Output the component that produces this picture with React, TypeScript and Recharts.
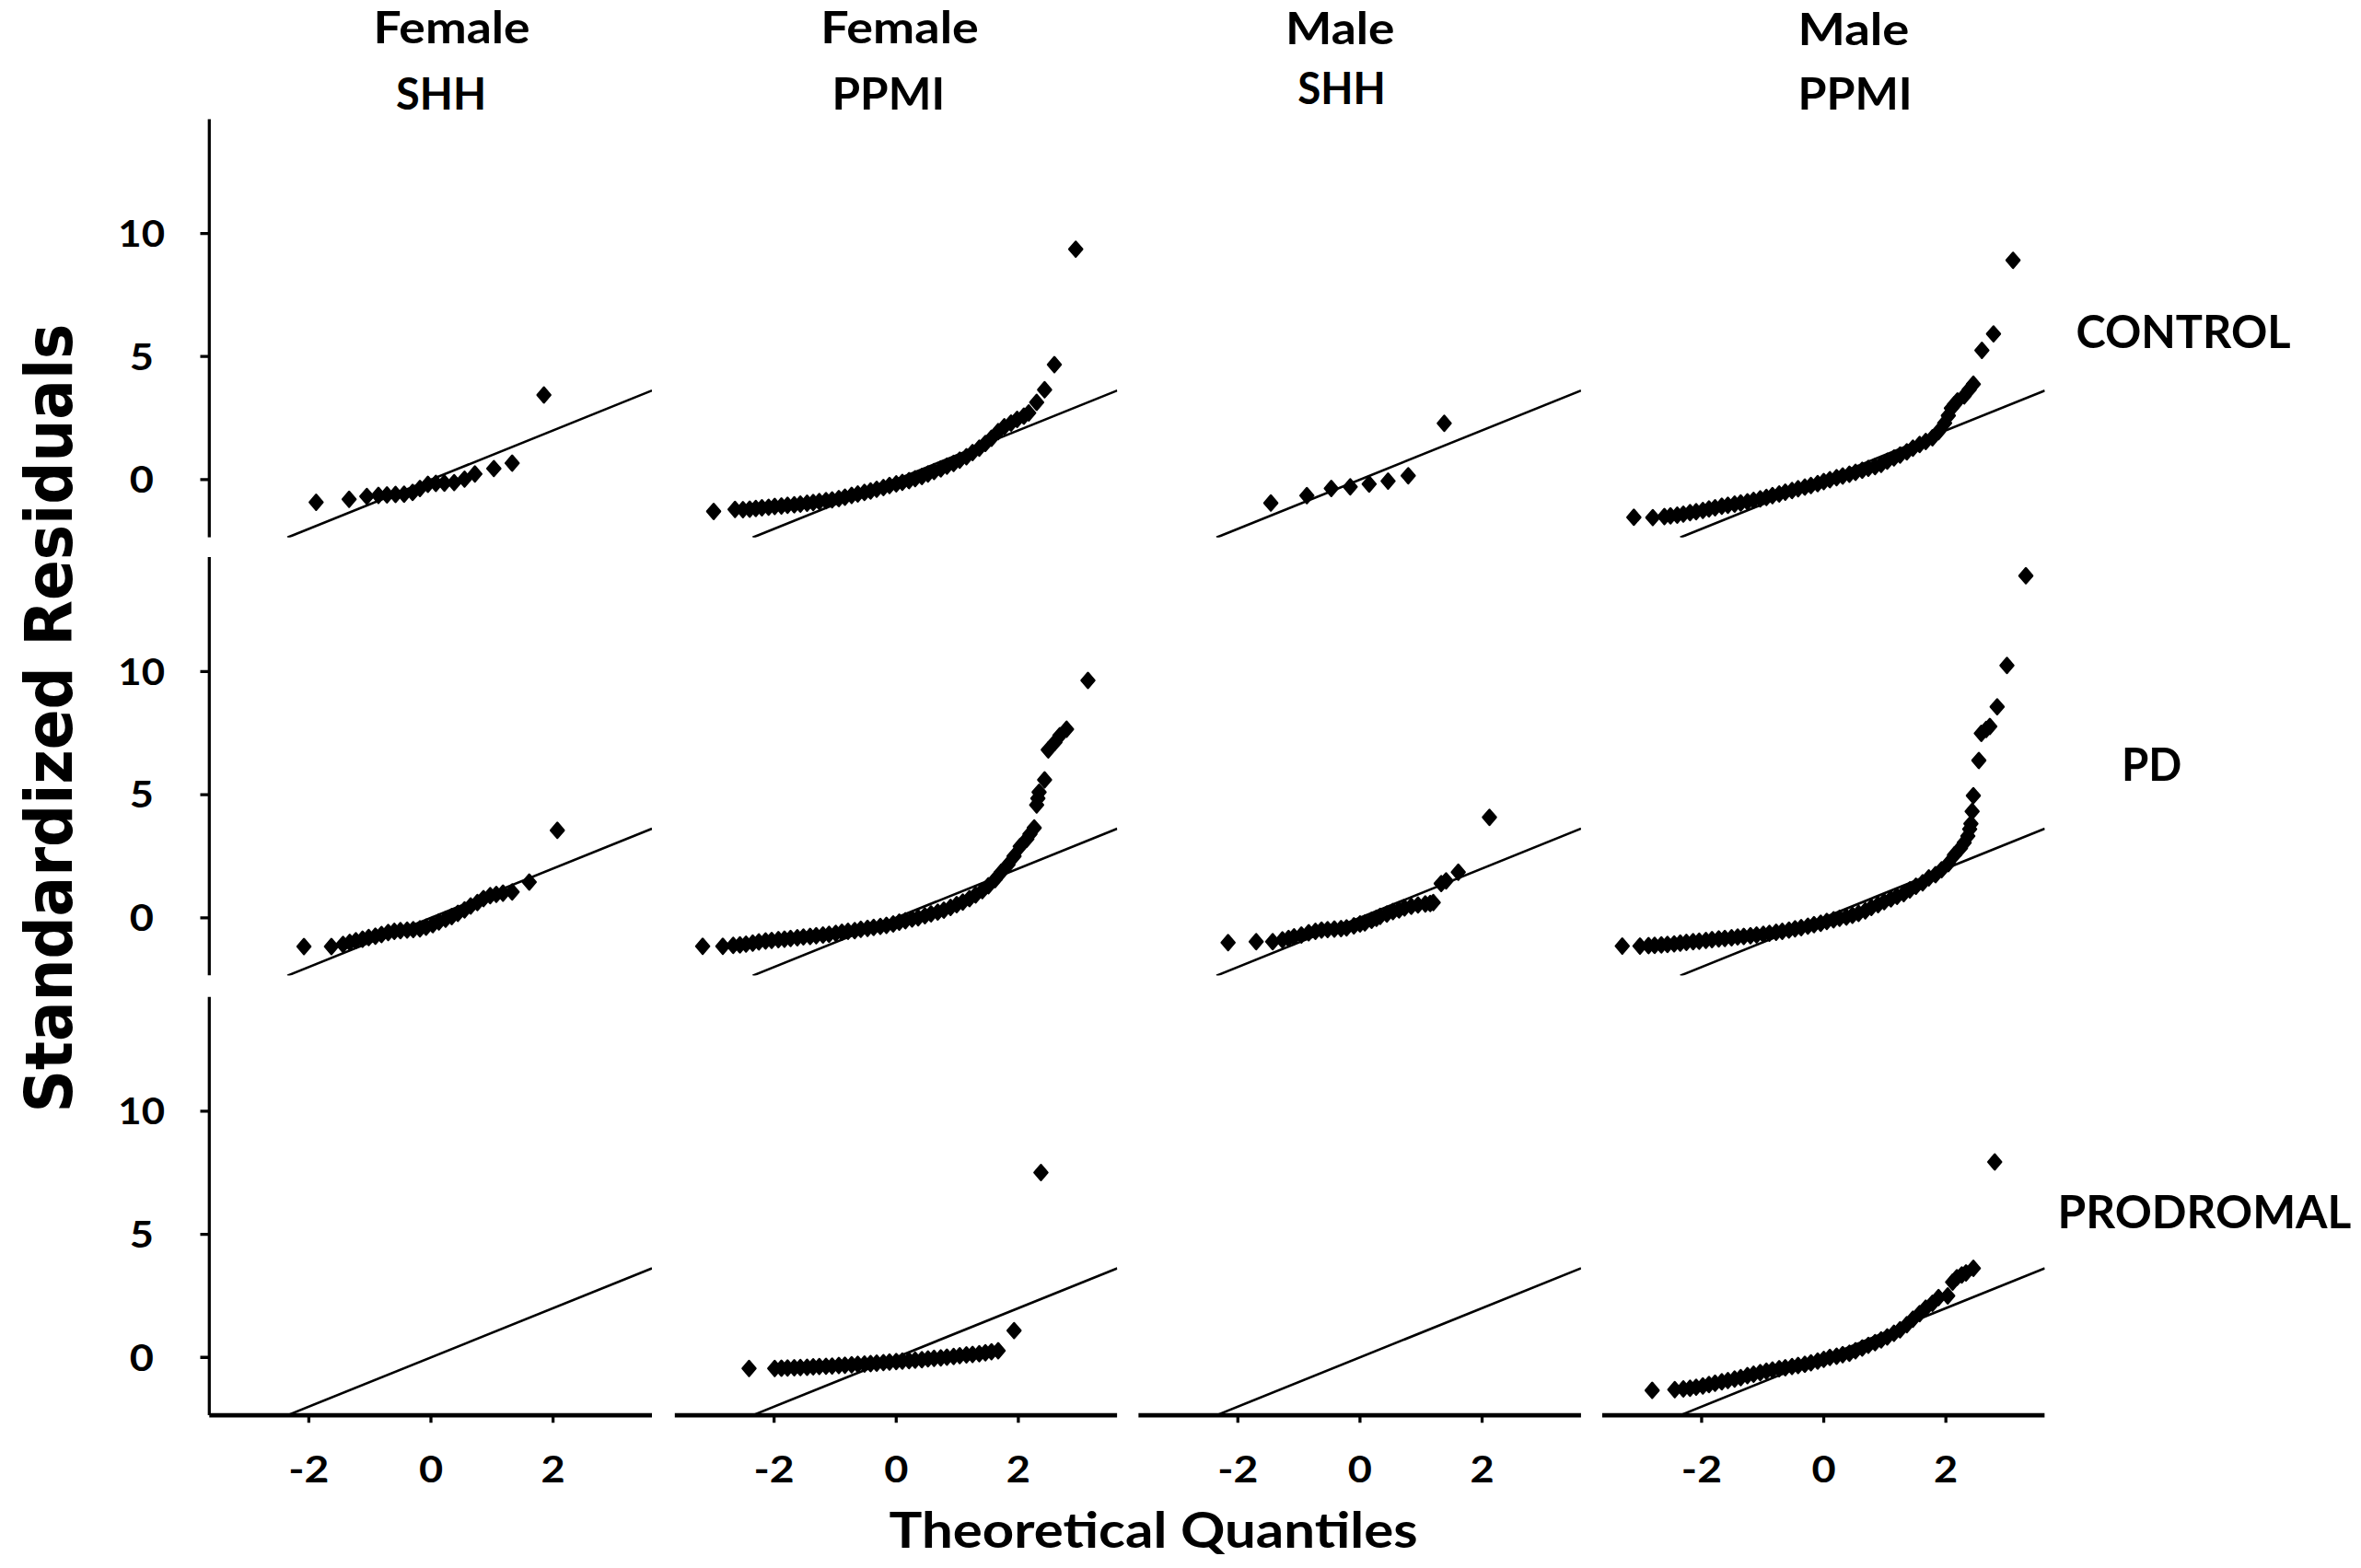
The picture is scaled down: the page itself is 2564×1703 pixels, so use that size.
import React from 'react';
import { ReferenceLine, Scatter, ScatterChart, XAxis, YAxis } from 'recharts';

type Pt = [number, number];

const xTicks = [-2, 0, 2];
const yTicks = [0, 5, 10];
const xDomain = [-3.63, 3.62];
const yDomain = [-2.35, 14.65];
// reference line y = x, from the bottom of the panel to its right edge
const qqLine = [-2.35, 3.62];

const columnTitles = [['Female', 'SHH'], ['Female', 'PPMI'], ['Male', 'SHH'], ['Male', 'PPMI']];
const rowLabels = ['CONTROL', 'PD', 'PRODROMAL'];

// CONTROL
const femaleShhControl: Pt[] = [[-1.88, -0.92], [-1.34, -0.8], [-1.05, -0.68], [-0.86, -0.64], [-0.72, -0.62], [-0.58, -0.6], [-0.44, -0.59], [-0.3, -0.52], [-0.18, -0.36], [-0.05, -0.19], [0.08, -0.15], [0.22, -0.14], [0.38, -0.12], [0.55, 0.02], [0.72, 0.23], [1.03, 0.45], [1.33, 0.67], [1.85, 3.44]];
const femalePpmiControl: Pt[] = [[-2.99, -1.29], [-2.64, -1.21], [-2.51, -1.22], [-2.4, -1.2], [-2.3, -1.17], [-2.2, -1.14], [-2.09, -1.12], [-1.99, -1.09], [-1.88, -1.07], [-1.78, -1.04], [-1.67, -1.02], [-1.57, -0.99], [-1.46, -0.96], [-1.36, -0.93], [-1.26, -0.89], [-1.15, -0.85], [-1.05, -0.82], [-0.94, -0.77], [-0.84, -0.71], [-0.73, -0.64], [-0.63, -0.58], [-0.52, -0.52], [-0.42, -0.46], [-0.32, -0.39], [-0.21, -0.32], [-0.11, -0.24], [0.0, -0.17], [0.1, -0.11], [0.21, -0.04], [0.31, 0.04], [0.42, 0.13], [0.52, 0.23], [0.62, 0.33], [0.73, 0.44], [0.83, 0.55], [0.94, 0.66], [1.04, 0.79], [1.15, 0.93], [1.25, 1.1], [1.36, 1.28], [1.46, 1.47], [1.56, 1.68], [1.67, 1.95], [1.77, 2.15], [1.88, 2.3], [1.98, 2.45], [2.09, 2.58], [2.17, 2.71], [2.3, 3.14], [2.43, 3.65], [2.59, 4.67], [2.94, 9.36]];
const maleShhControl: Pt[] = [[-1.46, -0.95], [-0.87, -0.65], [-0.47, -0.36], [-0.16, -0.29], [0.15, -0.18], [0.46, -0.06], [0.79, 0.16], [1.38, 2.29]];
const malePpmiControl: Pt[] = [[-3.11, -1.53], [-2.8, -1.54], [-2.61, -1.5], [-2.51, -1.47], [-2.4, -1.44], [-2.3, -1.4], [-2.19, -1.34], [-2.09, -1.3], [-1.98, -1.25], [-1.88, -1.19], [-1.78, -1.14], [-1.67, -1.08], [-1.57, -1.04], [-1.46, -0.99], [-1.36, -0.95], [-1.25, -0.9], [-1.15, -0.84], [-1.04, -0.78], [-0.94, -0.72], [-0.84, -0.65], [-0.73, -0.58], [-0.63, -0.51], [-0.52, -0.44], [-0.42, -0.37], [-0.31, -0.3], [-0.21, -0.24], [-0.1, -0.16], [0.0, -0.08], [0.1, 0.0], [0.21, 0.08], [0.31, 0.15], [0.42, 0.22], [0.52, 0.3], [0.63, 0.38], [0.73, 0.46], [0.84, 0.53], [0.94, 0.62], [1.04, 0.75], [1.15, 0.88], [1.25, 1.0], [1.36, 1.13], [1.46, 1.28], [1.57, 1.43], [1.67, 1.55], [1.78, 1.7], [1.88, 1.95], [1.98, 2.3], [2.04, 2.6], [2.09, 2.9], [2.14, 3.05], [2.19, 3.2], [2.3, 3.4], [2.38, 3.65], [2.45, 3.88], [2.59, 5.25], [2.78, 5.92], [3.1, 8.91]];

// PD
const femaleShhPd: Pt[] = [[-2.08, -1.17], [-1.63, -1.17], [-1.44, -1.08], [-1.33, -1.0], [-1.23, -0.93], [-1.12, -0.87], [-1.02, -0.8], [-0.91, -0.75], [-0.81, -0.68], [-0.7, -0.6], [-0.6, -0.55], [-0.5, -0.52], [-0.39, -0.5], [-0.29, -0.48], [-0.18, -0.45], [-0.08, -0.38], [0.03, -0.28], [0.13, -0.17], [0.24, -0.06], [0.34, 0.05], [0.44, 0.18], [0.55, 0.32], [0.65, 0.48], [0.76, 0.62], [0.86, 0.78], [0.97, 0.9], [1.07, 0.95], [1.18, 1.0], [1.33, 1.05], [1.61, 1.45], [2.07, 3.55]];
const femalePpmiPd: Pt[] = [[-3.17, -1.16], [-2.84, -1.16], [-2.67, -1.12], [-2.56, -1.1], [-2.46, -1.07], [-2.35, -1.03], [-2.25, -0.98], [-2.14, -0.94], [-2.04, -0.92], [-1.93, -0.89], [-1.83, -0.87], [-1.73, -0.84], [-1.62, -0.81], [-1.52, -0.78], [-1.41, -0.76], [-1.31, -0.73], [-1.2, -0.7], [-1.1, -0.67], [-0.99, -0.63], [-0.89, -0.59], [-0.79, -0.55], [-0.68, -0.52], [-0.58, -0.47], [-0.47, -0.43], [-0.37, -0.39], [-0.26, -0.35], [-0.16, -0.31], [-0.05, -0.25], [0.05, -0.18], [0.15, -0.12], [0.26, -0.05], [0.36, 0.0], [0.47, 0.08], [0.57, 0.16], [0.68, 0.23], [0.78, 0.31], [0.89, 0.42], [0.99, 0.53], [1.09, 0.64], [1.2, 0.78], [1.3, 0.93], [1.41, 1.1], [1.51, 1.3], [1.62, 1.55], [1.72, 1.85], [1.83, 2.15], [1.93, 2.5], [2.03, 2.9], [2.14, 3.2], [2.19, 3.4], [2.26, 3.65], [2.3, 4.58], [2.32, 4.85], [2.34, 5.1], [2.43, 5.6], [2.49, 6.82], [2.6, 7.13], [2.68, 7.4], [2.79, 7.66], [3.14, 9.64]];
const maleShhPd: Pt[] = [[-2.16, -1.01], [-1.7, -0.97], [-1.43, -0.97], [-1.27, -0.9], [-1.17, -0.84], [-1.08, -0.77], [-0.96, -0.7], [-0.84, -0.61], [-0.73, -0.55], [-0.63, -0.5], [-0.53, -0.48], [-0.42, -0.46], [-0.31, -0.44], [-0.22, -0.41], [-0.1, -0.33], [0.0, -0.25], [0.08, -0.21], [0.19, -0.1], [0.27, -0.02], [0.33, 0.06], [0.44, 0.15], [0.54, 0.25], [0.64, 0.32], [0.73, 0.4], [0.84, 0.47], [0.95, 0.52], [1.07, 0.56], [1.15, 0.58], [1.2, 0.62], [1.33, 1.39], [1.41, 1.5], [1.61, 1.85], [2.12, 4.08]];
const malePpmiPd: Pt[] = [[-3.3, -1.15], [-3.01, -1.15], [-2.87, -1.13], [-2.77, -1.12], [-2.66, -1.1], [-2.56, -1.08], [-2.45, -1.06], [-2.35, -1.03], [-2.25, -1.0], [-2.14, -0.97], [-2.04, -0.95], [-1.93, -0.92], [-1.83, -0.89], [-1.72, -0.86], [-1.62, -0.84], [-1.51, -0.81], [-1.41, -0.78], [-1.31, -0.76], [-1.2, -0.73], [-1.1, -0.7], [-0.99, -0.67], [-0.89, -0.63], [-0.78, -0.59], [-0.68, -0.55], [-0.57, -0.5], [-0.47, -0.45], [-0.37, -0.4], [-0.26, -0.34], [-0.16, -0.28], [-0.05, -0.22], [0.05, -0.15], [0.16, -0.08], [0.26, -0.02], [0.37, 0.03], [0.47, 0.1], [0.57, 0.18], [0.68, 0.28], [0.78, 0.42], [0.89, 0.53], [0.99, 0.65], [1.1, 0.77], [1.2, 0.87], [1.31, 0.98], [1.41, 1.13], [1.51, 1.28], [1.62, 1.42], [1.72, 1.62], [1.83, 1.75], [1.93, 1.95], [2.04, 2.2], [2.14, 2.55], [2.24, 2.83], [2.3, 3.05], [2.36, 3.32], [2.39, 3.6], [2.41, 3.82], [2.43, 4.32], [2.45, 4.96], [2.54, 6.39], [2.58, 7.49], [2.66, 7.65], [2.72, 7.77], [2.84, 8.57], [3.0, 10.25], [3.31, 13.89]];

// PRODROMAL
const femaleShhProdromal: Pt[] = [];
const femalePpmiProdromal: Pt[] = [[-2.41, -0.45], [-1.99, -0.45], [-1.88, -0.44], [-1.78, -0.43], [-1.67, -0.42], [-1.57, -0.41], [-1.46, -0.4], [-1.36, -0.38], [-1.26, -0.37], [-1.15, -0.36], [-1.05, -0.35], [-0.94, -0.33], [-0.84, -0.32], [-0.73, -0.3], [-0.63, -0.28], [-0.52, -0.27], [-0.42, -0.25], [-0.32, -0.23], [-0.21, -0.21], [-0.11, -0.19], [0.0, -0.17], [0.1, -0.15], [0.21, -0.13], [0.31, -0.11], [0.42, -0.09], [0.52, -0.06], [0.62, -0.04], [0.73, -0.02], [0.83, 0.01], [0.94, 0.04], [1.04, 0.07], [1.15, 0.1], [1.25, 0.12], [1.36, 0.15], [1.46, 0.19], [1.56, 0.23], [1.67, 0.27], [1.93, 1.09], [2.37, 7.51]];
const maleShhProdromal: Pt[] = [];
const malePpmiProdromal: Pt[] = [[-2.81, -1.34], [-2.44, -1.31], [-2.3, -1.28], [-2.19, -1.25], [-2.09, -1.21], [-1.98, -1.16], [-1.88, -1.1], [-1.78, -1.05], [-1.67, -0.99], [-1.57, -0.94], [-1.46, -0.88], [-1.36, -0.82], [-1.25, -0.74], [-1.15, -0.68], [-1.04, -0.62], [-0.94, -0.56], [-0.84, -0.51], [-0.73, -0.46], [-0.63, -0.42], [-0.52, -0.37], [-0.42, -0.33], [-0.31, -0.28], [-0.21, -0.22], [-0.1, -0.15], [0.0, -0.08], [0.1, 0.0], [0.21, 0.05], [0.31, 0.11], [0.42, 0.17], [0.52, 0.27], [0.63, 0.38], [0.73, 0.49], [0.84, 0.6], [0.94, 0.71], [1.04, 0.83], [1.15, 0.98], [1.25, 1.12], [1.36, 1.33], [1.46, 1.55], [1.57, 1.78], [1.67, 2.0], [1.78, 2.2], [1.88, 2.43], [2.03, 2.5], [2.11, 3.06], [2.18, 3.24], [2.26, 3.35], [2.33, 3.43], [2.45, 3.62], [2.8, 7.94]];

const grid: Pt[][][] = [
	[femaleShhControl, femalePpmiControl, maleShhControl, malePpmiControl],
	[femaleShhPd, femalePpmiPd, maleShhPd, malePpmiPd],
	[femaleShhProdromal, femalePpmiProdromal, maleShhProdromal, malePpmiProdromal],
];

// layout, in 1568x1040 units, scaled up to the 2564 px window
const S = 2564 / 1568;
const PLOT_W = 294;
const PLOT_H = 278;
const AXIS_W = 70;
const AXIS_H = 70;
const colLeft = [139, 448, 756, 1064];
const rowTop = [78.5, 370, 662];

const titleLayout = [
	{ x: [300, 293], y: [29, 72.5], w: [104, 60] },
	{ x: [597.5, 590], y: [29, 72.5], w: [105, 75] },
	{ x: [890, 891], y: [29.5, 69], w: [72.5, 58.5] },
	{ x: [1231, 1232], y: [30, 72.5], w: [74, 76] },
];
const rowLabelLayout = [
	{ x: 1450, y: 231, w: 142.6 },
	{ x: 1429, y: 518.6, w: 40 },
	{ x: 1464, y: 816, w: 195 },
];

const LABEL_FONT = 'Lato, "Open Sans", sans-serif';
const tickWidth: Record<string, number> = { '10': 31, '-2': 27 };

const Tick = (props: any) => {
	const { x, y, payload } = props;
	const label = String(payload.value);
	return (
		<text x={x} y={y} dy="0.35em" textAnchor="middle" fontFamily={LABEL_FONT} fontSize={25} fontWeight={700}
		      fill="#000" textLength={tickWidth[label] ?? 16} lengthAdjust="spacingAndGlyphs">
			{label}
		</text>
	);
};

const Dot = (props: any) => {
	const { cx, cy } = props;
	if (cx == null || cy == null) return null;
	return (
		<path d={`M${cx},${cy - 5}L${cx + 4.3},${cy}L${cx},${cy + 5}L${cx - 4.3},${cy}Z`}
		      fill="#000" stroke="#000" strokeWidth={1.5} strokeLinejoin="round" />
	);
};

const Panel = ({ row, col }: { row: number, col: number }) => {
	const showY = col === 0;
	const showX = row === 2;
	const data = grid[row][col].map(([x, y]) => ({ x, y }));
	return (
		<div style={{ position: 'absolute', left: colLeft[col] - (showY ? AXIS_W : 0), top: rowTop[row] }}>
			<ScatterChart
				width={PLOT_W + (showY ? AXIS_W : 0)}
				height={PLOT_H + (showX ? AXIS_H : 0)}
				margin={{ top: 0, right: 0, bottom: 0, left: 0 }}
			>
				<XAxis type="number" dataKey="x" domain={xDomain} ticks={xTicks} interval={0} allowDataOverflow
				       hide={!showX} height={AXIS_H}
				       axisLine={{ stroke: '#000', strokeWidth: 3 }} tickLine={{ stroke: '#000', strokeWidth: 2 }}
				       tickSize={5} tickMargin={31} tick={<Tick />} />
				<YAxis type="number" dataKey="y" domain={yDomain} ticks={yTicks} interval={0} allowDataOverflow
				       hide={!showY} width={AXIS_W}
				       axisLine={{ stroke: '#000', strokeWidth: 2 }} tickLine={{ stroke: '#000', strokeWidth: 2 }}
				       tickSize={6} tickMargin={39} tick={<Tick />} />
				<ReferenceLine segment={[{ x: qqLine[0], y: qqLine[0] }, { x: qqLine[1], y: qqLine[1] }]}
				               stroke="#000" strokeWidth={1.6} ifOverflow="visible" />
				<Scatter data={data} shape={<Dot />} isAnimationActive={false} />
			</ScatterChart>
		</div>
	);
};

export default function App() {
	return (
		<div style={{
			position: 'absolute', left: 0, top: 0, width: 1568, height: 1040, background: '#fff',
			transform: `scale(${S})`, transformOrigin: '0 0',
		}}>
			<style>{'body{margin:0;overflow:hidden;background:#fff}'}</style>
			{grid.map((cells, r) => cells.map((_, c) => <Panel key={`${r}-${c}`} row={r} col={c} />))}
			<svg width={1568} height={1040} style={{ position: 'absolute', left: 0, top: 0, pointerEvents: 'none' }}>
				{columnTitles.map((lines, c) => lines.map((line, i) => (
					<text key={`t${c}${i}`} x={titleLayout[c].x[i]} y={titleLayout[c].y[i]} textAnchor="middle"
					      fontFamily={LABEL_FONT} fontSize={29} fontWeight={700} fill="#000"
					      textLength={titleLayout[c].w[i]} lengthAdjust="spacingAndGlyphs">{line}</text>
				)))}
				{rowLabels.map((label, r) => (
					<text key={label} x={rowLabelLayout[r].x} y={rowLabelLayout[r].y} textAnchor="middle"
					      fontFamily={LABEL_FONT} fontSize={30} fontWeight={700} fill="#000"
					      textLength={rowLabelLayout[r].w} lengthAdjust="spacingAndGlyphs">{label}</text>
				))}
				<text x={766} y={1028} textAnchor="middle" fontFamily={LABEL_FONT} fontSize={33} fontWeight={700}
				      fill="#000" textLength={351} lengthAdjust="spacingAndGlyphs">Theoretical Quantiles</text>
				<text transform="translate(47.5,477) rotate(-90)" textAnchor="middle"
				      fontFamily='"DejaVu Sans", Verdana, sans-serif' fontSize={44} fontWeight={700} fill="#000"
				      textLength={524} lengthAdjust="spacingAndGlyphs">Standardized Residuals</text>
			</svg>
		</div>
	);
}
